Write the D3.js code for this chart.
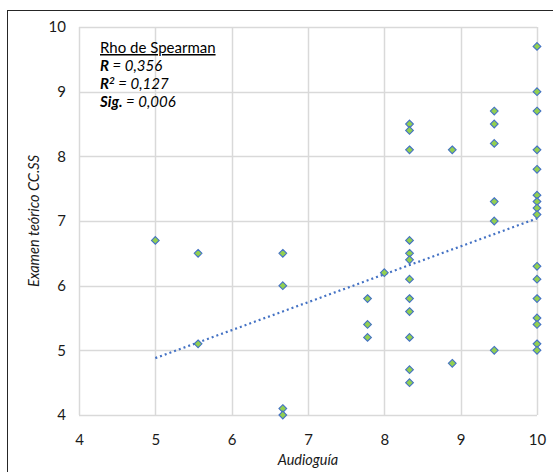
<!DOCTYPE html>
<html>
<head>
<meta charset="utf-8">
<script src="https://cdn.jsdelivr.net/npm/d3@7"></script>
<style>
	body { margin: 0; background: #fff; }
	svg { display: block; font-family: Lato, "Open Sans", sans-serif; }
</style>
</head>
<body>
<div id="chart"></div>
<script>

// Audioguía score (x) and Examen teórico CC.SS score (y), one pair per student
var audioguia = [5,
	5.56, 5.56,
	6.67, 6.67, 6.67, 6.67,
	7.78, 7.78, 7.78,
	8,
	8.33, 8.33, 8.33, 8.33, 8.33, 8.33, 8.33, 8.33, 8.33, 8.33, 8.33, 8.33,
	8.89, 8.89,
	9.44, 9.44, 9.44, 9.44, 9.44, 9.44,
	10, 10, 10, 10, 10, 10, 10, 10, 10, 10, 10, 10, 10, 10, 10, 10];
var examen = [6.7,
	6.5, 5.1,
	6.5, 6.0, 4.1, 4.0,
	5.8, 5.4, 5.2,
	6.2,
	8.5, 8.4, 8.1, 6.7, 6.5, 6.4, 6.1, 5.8, 5.6, 5.2, 4.7, 4.5,
	8.1, 4.8,
	8.7, 8.5, 8.2, 7.3, 7.0, 5.0,
	9.7, 9.0, 8.7, 8.1, 7.8, 7.4, 7.3, 7.2, 7.1, 6.3, 6.1, 5.8, 5.5, 5.4, 5.1, 5.0];

// linear trend line end points
var trendX = [5, 10];
var trendY = [4.88, 7.04];

var xTicks = [4, 5, 6, 7, 8, 9, 10];
var yTicks = [4, 5, 6, 7, 8, 9, 10];

var svgWidth = 553;
var svgHeight = 472;
var margin = {left: 79, right: 16, top: 27, bottom: 57};
var plotW = svgWidth - margin.left - margin.right;
var plotH = svgHeight - margin.top - margin.bottom;

var x = d3.scaleLinear().domain([4, 10]).range([0, plotW]);
var y = d3.scaleLinear().domain([4, 10]).range([plotH, 0]);

var svg = d3.select('#chart').append('svg')
	.attr('width', svgWidth).attr('height', svgHeight);

// chart area border (runs off the picture on the right and bottom)
svg.append('rect')
	.attr('x', 7.5).attr('y', 10.5)
	.attr('width', 600).attr('height', 500)
	.style('fill', 'none').style('stroke', '#262626').style('stroke-width', 1);

var g = svg.append('g')
	.attr('transform', 'translate(' + margin.left + ',' + margin.top + ')');

// grid
g.selectAll('.vgrid').data(xTicks)
	.enter().append('line')
	.attr('class', 'vgrid')
	.attr('x1', function(d) { return Math.round(x(d)) + 0.5; })
	.attr('x2', function(d) { return Math.round(x(d)) + 0.5; })
	.attr('y1', 0).attr('y2', plotH)
	.style('stroke', '#d9d9d9').style('stroke-width', 1.5);

g.selectAll('.hgrid').data(yTicks)
	.enter().append('line')
	.attr('class', 'hgrid')
	.attr('y1', function(d) { return Math.round(y(d)) + 0.5; })
	.attr('y2', function(d) { return Math.round(y(d)) + 0.5; })
	.attr('x1', 0).attr('x2', plotW)
	.style('stroke', '#d9d9d9').style('stroke-width', 1.5);

// axes labels
var xAxis = g.append('g')
	.attr('transform', 'translate(0,' + plotH + ')')
	.call(d3.axisBottom(x).tickValues(xTicks).tickSize(0).tickPadding(19).tickFormat(d3.format('d')));
var yAxis = g.append('g')
	.call(d3.axisLeft(y).tickValues(yTicks).tickSize(0).tickPadding(13).tickFormat(d3.format('d')));

[xAxis, yAxis].forEach(function(a) {
	a.select('.domain').remove();
	a.selectAll('text')
		.style('font-family', 'Lato, "Open Sans", sans-serif')
		.style('font-size', '15px')
		.style('fill', '#1a1a1a');
});

// trend line
var trend = trendX.map(function(d, i) { return [d, trendY[i]]; });
g.append('path')
	.datum(trend)
	.attr('d', d3.line().x(function(d) { return x(d[0]); }).y(function(d) { return y(d[1]); }))
	.style('fill', 'none')
	.style('stroke', '#4472c4')
	.style('stroke-width', 2.2)
	.style('stroke-dasharray', '2,3');

// points
var points = audioguia.map(function(d, i) { return {x: d, y: examen[i]}; });
var diamond = d3.symbol().type(d3.symbolDiamond2).size(38);

g.selectAll('.pt').data(points)
	.enter().append('path')
	.attr('class', 'pt')
	.attr('transform', function(d) { return 'translate(' + x(d.x) + ',' + y(d.y) + ')'; })
	.attr('d', diamond)
	.style('fill', '#92d050')
	.style('stroke', '#4472c4')
	.style('stroke-width', 1.1);

// axis titles
svg.append('text')
	.attr('x', margin.left + plotW / 2).attr('y', 465)
	.attr('text-anchor', 'middle')
	.style('font-size', '14.5px').style('font-style', 'italic').style('fill', '#1a1a1a')
	.text('Audioguía');

svg.append('text')
	.attr('transform', 'translate(39,' + (margin.top + plotH / 2) + ') rotate(-90)')
	.attr('text-anchor', 'middle')
	.style('font-size', '14.5px').style('font-style', 'italic').style('fill', '#1a1a1a')
	.text('Examen teórico CC.SS');

// Spearman box
var note = svg.append('g')
	.attr('transform', 'translate(100,0)')
	.style('font-size', '15px').style('fill', '#000');

note.append('text').attr('y', 53)
	.style('text-decoration', 'underline')
	.text('Rho de Spearman');

var l1 = note.append('text').attr('y', 71).style('font-style', 'italic');
l1.append('tspan').style('font-weight', 'bold').text('R');
l1.append('tspan').text(' = 0,356');

var l2 = note.append('text').attr('y', 89).style('font-style', 'italic');
l2.append('tspan').style('font-weight', 'bold').text('R');
l2.append('tspan').style('font-weight', 'bold').style('font-size', '10px').attr('dy', -5).text('2');
l2.append('tspan').attr('dy', 5).text(' = 0,127');

var l3 = note.append('text').attr('y', 107).style('font-style', 'italic');
l3.append('tspan').style('font-weight', 'bold').text('Sig.');
l3.append('tspan').text(' = 0,006');

</script>
</body>
</html>
